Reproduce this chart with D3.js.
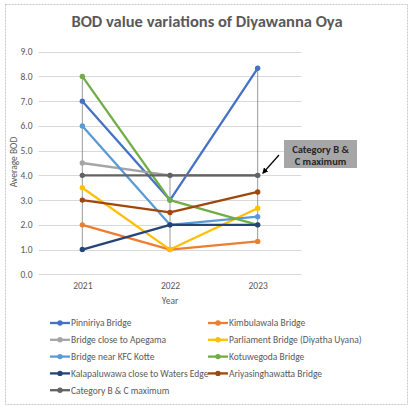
<!DOCTYPE html>
<html>
<head>
<meta charset="utf-8">
<script src="https://cdn.jsdelivr.net/npm/d3@7"></script>
<style>
  body { margin: 0; background: #fff; }
  text { font-family: Calibri, Carlito, "Open Sans", sans-serif; }
</style>
</head>
<body>
<svg id="chart" width="414" height="412"></svg>
<script>
const years = ['2021', '2022', '2023'];
const yTicks = [0, 1, 2, 3, 4, 5, 6, 7, 8, 9];

const seriesNames = [
  'Pinniriya Bridge', 'Kimbulawala Bridge',
  'Bridge close to Apegama', 'Parliament Bridge (Diyatha Uyana)',
  'Bridge near KFC Kotte', 'Kotuwegoda Bridge',
  'Kalapaluwawa close to Waters Edge', 'Ariyasinghawatta Bridge',
  'Category B & C maximum'
];
const seriesColors = [
  '#4472C4', '#ED7D31', '#A5A5A5', '#FFC000', '#5B9BD5',
  '#70AD47', '#264478', '#9E480E', '#636363'
];

const pinniriya = [7.0, 3.0, 8.33];
const kimbulawala = [2.0, 1.0, 1.33];
const apegama = [4.5, 4.0, 4.0];
const parliament = [3.5, 1.0, 2.67];
const kfcKotte = [6.0, 2.0, 2.33];
const kotuwegoda = [8.0, 3.0, 2.0];
const kalapaluwawa = [1.0, 2.0, 2.0];
const ariyasinghawatta = [3.0, 2.5, 3.33];
const categoryMax = [4.0, 4.0, 4.0];

const seriesValues = [pinniriya, kimbulawala, apegama, parliament, kfcKotte,
  kotuwegoda, kalapaluwawa, ariyasinghawatta, categoryMax];

const series = seriesNames.map((name, i) => ({
  name, color: seriesColors[i],
  values: seriesValues[i].map((v, j) => ({ year: years[j], v }))
}));

const svg = d3.select('#chart');
const textColor = '#595959';

// outer dashed frame
svg.append('rect')
  .attr('x', 5.5).attr('y', 4.5).attr('width', 402).attr('height', 400)
  .attr('fill', '#fff')
  .attr('stroke', '#c8c8c8').attr('stroke-dasharray', '2,1');

svg.append('text')
  .attr('x', 207).attr('y', 27)
  .attr('text-anchor', 'middle')
  .attr('font-size', 16.5).attr('font-weight', 'bold')
  .attr('fill', textColor)
  .text('BOD value variations of Diyawanna Oya');

const x = d3.scalePoint().domain(years).range([38.5, 301.5]).padding(0.5);
const y = d3.scaleLinear().domain([0, 9]).range([274.3, 51.7]);

// gridlines
svg.append('g')
  .selectAll('line')
  .data(yTicks)
  .join('line')
  .attr('x1', 38.5).attr('x2', 301.5)
  .attr('y1', d => Math.round(y(d)) + 0.5).attr('y2', d => Math.round(y(d)) + 0.5)
  .attr('stroke', '#d9d9d9').attr('stroke-width', 1);

// y axis labels
const yAxis = d3.axisLeft(y).tickValues(yTicks).tickFormat(d3.format('.1f')).tickSize(0).tickPadding(6);
const yg = svg.append('g').attr('transform', 'translate(38.5,0)').call(yAxis);
yg.select('.domain').remove();
yg.selectAll('text').attr('font-size', 9.5).attr('fill', textColor)
  .style('font-family', 'Calibri, Carlito, "Open Sans", sans-serif');

// x axis labels
const xAxis = d3.axisBottom(x).tickSize(0).tickPadding(8);
const xg = svg.append('g').attr('transform', 'translate(0,274.3)').call(xAxis);
xg.select('.domain').remove();
xg.selectAll('text').attr('font-size', 9.5).attr('fill', textColor)
  .style('font-family', 'Calibri, Carlito, "Open Sans", sans-serif');

svg.append('text')
  .attr('x', 170).attr('y', 304)
  .attr('text-anchor', 'middle').attr('font-size', 9.5).attr('fill', textColor)
  .text('Year');

svg.append('text')
  .attr('transform', 'translate(17,162) rotate(-90)')
  .attr('text-anchor', 'middle').attr('font-size', 9.5).attr('fill', textColor)
  .text('Average BOD');

// high-low lines
svg.append('g')
  .selectAll('line')
  .data(years.map((yr, j) => ({
    yr,
    hi: d3.max(seriesValues, s => s[j]),
    lo: d3.min(seriesValues, s => s[j])
  })))
  .join('line')
  .attr('x1', d => x(d.yr)).attr('x2', d => x(d.yr))
  .attr('y1', d => y(d.hi)).attr('y2', d => y(d.lo))
  .attr('stroke', '#7f7f7f').attr('stroke-width', 0.8);

// series lines
const line = d3.line().x(d => x(d.year)).y(d => y(d.v));
const sg = svg.append('g')
  .selectAll('g')
  .data(series)
  .join('g');

sg.append('path')
  .attr('d', d => line(d.values))
  .attr('fill', 'none')
  .attr('stroke', d => d.color)
  .attr('stroke-width', 2.3)
  .attr('stroke-linejoin', 'round');

sg.selectAll('circle')
  .data(d => d.values.map(p => ({ ...p, color: d.color })))
  .join('circle')
  .attr('cx', d => x(d.year)).attr('cy', d => y(d.v))
  .attr('r', 2.7)
  .attr('fill', d => d.color);

// annotation
svg.append('rect')
  .attr('x', 284).attr('y', 140).attr('width', 73).attr('height', 28)
  .attr('fill', '#a6a6a6');
svg.append('text')
  .attr('x', 320.5).attr('y', 152.5)
  .attr('text-anchor', 'middle').attr('font-size', 10.5).attr('font-weight', 'bold').attr('fill', '#262626')
  .text('Category B &');
svg.append('text')
  .attr('x', 320.5).attr('y', 165)
  .attr('text-anchor', 'middle').attr('font-size', 10.5).attr('font-weight', 'bold').attr('fill', '#262626')
  .text('C maximum');

svg.append('defs').append('marker')
  .attr('id', 'arrow').attr('viewBox', '0 0 10 10')
  .attr('refX', 8).attr('refY', 5)
  .attr('markerWidth', 5).attr('markerHeight', 5)
  .attr('orient', 'auto')
  .append('path').attr('d', 'M0,0 L10,5 L0,10 z').attr('fill', '#000');

svg.append('line')
  .attr('x1', 279).attr('y1', 155).attr('x2', 263).attr('y2', 173)
  .attr('stroke', '#000').attr('stroke-width', 1.2)
  .attr('marker-end', 'url(#arrow)');

// legend
const legend = svg.append('g')
  .selectAll('g')
  .data(series)
  .join('g')
  .attr('transform', (d, i) => `translate(${i % 2 === 0 ? 50 : 208},${323 + Math.floor(i / 2) * 16.8})`);

legend.append('line')
  .attr('x1', 0).attr('x2', 20).attr('y1', 0).attr('y2', 0)
  .attr('stroke', d => d.color).attr('stroke-width', 2.3);
legend.append('circle')
  .attr('cx', 10).attr('cy', 0).attr('r', 2.7)
  .attr('fill', d => d.color);
legend.append('text')
  .attr('x', 21).attr('y', 3.3)
  .attr('font-size', 9.5).attr('fill', textColor)
  .text(d => d.name);
</script>
</body>
</html>
